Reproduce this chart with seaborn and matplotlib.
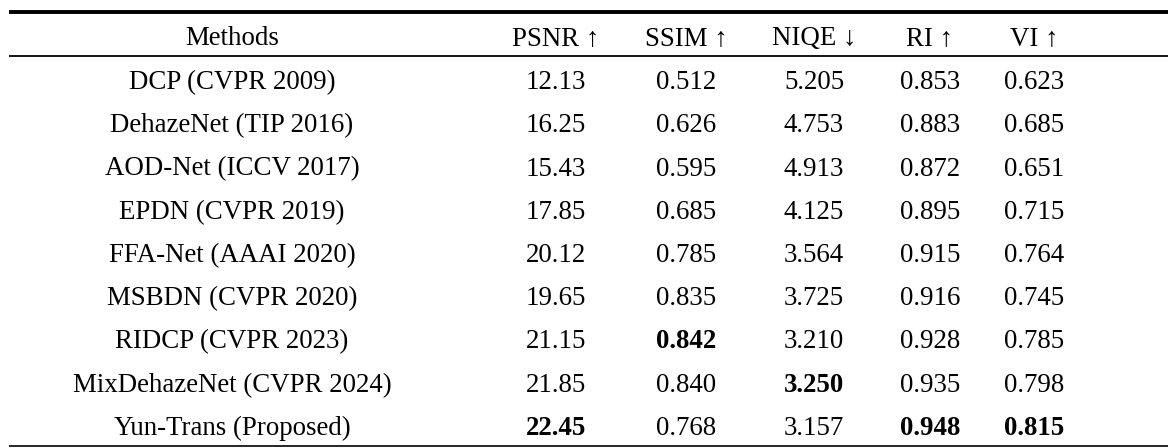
import numpy as np
import seaborn as sns
import matplotlib.pyplot as plt

methods = [
    "DCP (CVPR 2009)",
    "DehazeNet (TIP 2016)",
    "AOD-Net (ICCV 2017)",
    "EPDN (CVPR 2019)",
    "FFA-Net (AAAI 2020)",
    "MSBDN (CVPR 2020)",
    "RIDCP (CVPR 2023)",
    "MixDehazeNet (CVPR 2024)",
    "Yun-Trans (Proposed)",
]
headers = ["Methods", "PSNR ↑", "SSIM ↑", "NIQE ↓", "RI ↑", "VI ↑"]
psnr = ["12.13", "16.25", "15.43", "17.85", "20.12", "19.65", "21.15", "21.85", "22.45"]
ssim = ["0.512", "0.626", "0.595", "0.685", "0.785", "0.835", "0.842", "0.840", "0.768"]
niqe = ["5.205", "4.753", "4.913", "4.125", "3.564", "3.725", "3.210", "3.250", "3.157"]
ri = ["0.853", "0.883", "0.872", "0.895", "0.915", "0.916", "0.928", "0.935", "0.948"]
vi = ["0.623", "0.685", "0.651", "0.715", "0.764", "0.745", "0.785", "0.798", "0.815"]
# (row, column) of the bold cells
bold_cells = [(6, 2), (7, 3), (8, 1), (8, 4), (8, 5)]

sns.set_style("white")
plt.rcParams["font.family"] = ["Liberation Serif", "DejaVu Serif"]
plt.rcParams["text.color"] = "black"

fig = plt.figure(figsize=(11.68, 4.48), dpi=100)
ax = fig.add_axes([0, 0, 1, 1])
ax.set_xlim(0, 1168)
ax.set_ylim(448, 0)
ax.axis("off")

# column centres and text baselines in pixels
col_x = [232, 556, 686, 814, 930, 1034]
header_base = 45
row_base0, row_step = 89, 43.25
fs = 19.4

for x, h in zip(col_x, headers):
    ax.text(x, header_base, h, ha="center", va="baseline", fontsize=fs)

columns = [methods, psnr, ssim, niqe, ri, vi]
for c, values in enumerate(columns):
    for r, v in enumerate(values):
        weight = "bold" if (r, c) in bold_cells else "normal"
        ax.text(col_x[c], row_base0 + r * row_step, v, ha="center", va="baseline",
                fontsize=fs, fontweight=weight)

ax.hlines(12, 9, 1168, color="black", linewidth=2.8)
ax.hlines(56, 9, 1168, color="black", linewidth=1.3)
ax.hlines(446.5, 9, 1168, color="black", linewidth=1.2)

fig.savefig("out.png", dpi=100)
